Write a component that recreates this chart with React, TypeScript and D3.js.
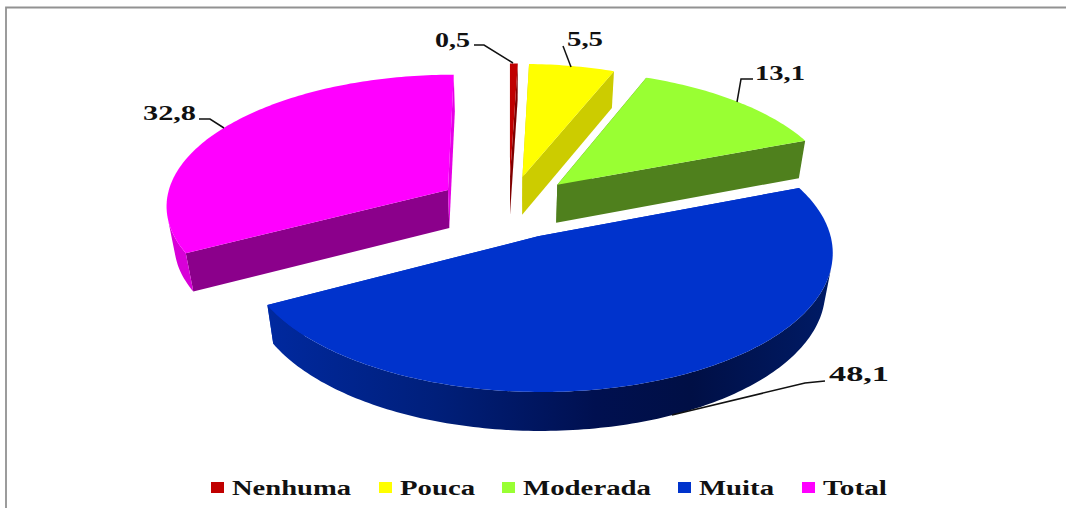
import React from "react";
import * as d3 from "d3";

const categories = ["Nenhuma", "Pouca", "Moderada", "Muita", "Total"];
const values = [0.5, 5.5, 13.1, 48.1, 32.8];
const valueLabels = ["0,5", "5,5", "13,1", "48,1", "32,8"];
const topColors = ["#C00000", "#FFFF00", "#99FF33", "#0033CC", "#FF00FF"];
const wallColors = ["#800000", "#CCCC00", "#4F801D", "#0033CC", "#8B008B"];
const paintOrder = [0, 1, 2, 4, 3];

const W = 1066, H = 508;
const CX = 509, CY = 207, R = 283, TILT = 0.463, PERSP = 0.106, DEPTH = 39, VANISH = 0.023;
const sliceExplode = [0.24, 0.24, 0.245, 0.24, 0.255];
const sliceRadius = [1, 1, 1, 1.01, 1];

type P = [number, number];
function project(X: number, Y: number, z: number): P {
  const w = 1 + PERSP * Y + VANISH * z;
  return [CX + (R * X) / w, CY - (R * TILT * Y) / w + (DEPTH * z) / w];
}

const arcs = d3.pie<number>().sort(null).startAngle(0).endAngle(2 * Math.PI)(values);
const line = d3.line<P>();

function pointOn(i: number, ang: number, r: number, z: number): P {
  const a = arcs[i];
  const mid = (a.startAngle + a.endAngle) / 2;
  const e = sliceExplode[i];
  const rr = r * sliceRadius[i];
  return project(e * Math.sin(mid) + rr * Math.sin(ang), e * Math.cos(mid) + rr * Math.cos(ang), z);
}

function sliceGeom(i: number) {
  const a = arcs[i];
  const n = Math.max(4, Math.ceil(((a.endAngle - a.startAngle) * 180) / Math.PI));
  const angs = d3.range(n + 1).map((k) => a.startAngle + ((a.endAngle - a.startAngle) * k) / n);
  const top: P[] = [pointOn(i, a.startAngle, 0, 0), ...angs.map((t) => pointOn(i, t, 1, 0))];
  const wallA: P[] = [pointOn(i, 0, 0, 0), pointOn(i, a.startAngle, 1, 0), pointOn(i, a.startAngle, 1, 1), pointOn(i, 0, 0, 1)];
  const wallB: P[] = [pointOn(i, 0, 0, 0), pointOn(i, a.endAngle, 1, 0), pointOn(i, a.endAngle, 1, 1), pointOn(i, 0, 0, 1)];
  // only the stretch of the rim that faces the viewer, as one polygon
  const front = d3.range(n).filter((k) => {
    const q: P[] = [pointOn(i, angs[k], 1, 0), pointOn(i, angs[k + 1], 1, 0), pointOn(i, angs[k + 1], 1, 1), pointOn(i, angs[k], 1, 1)];
    return d3.polygonArea(q) > 0;
  });
  let rim: P[] = [];
  if (front.length) {
    const ks = [...front, front[front.length - 1] + 1];
    rim = [...ks.map((k) => pointOn(i, angs[k], 1, 0)), ...ks.slice().reverse().map((k) => pointOn(i, angs[k], 1, 1))];
  }
  return { top, wallA, wallB, rim };
}

const leaders: { i: number; pts: P[]; label: P; w: number }[] = [
  { i: 0, pts: [[474, 45], [484, 45], [513, 63]], label: [435, 47], w: 35 },
  { i: 1, pts: [[563, 46], [571, 67]], label: [567, 46], w: 36 },
  { i: 2, pts: [[753, 79], [741, 79], [737, 102]], label: [755, 80], w: 50 },
  { i: 3, pts: [[825, 381], [805, 383], [672, 415]], label: [829, 381], w: 60 },
  { i: 4, pts: [[199, 119], [210, 119], [224, 128]], label: [143, 120], w: 53 },
];

const legendX = [211, 379, 502, 678, 802];
const legendTextW = [119, 75, 128, 75, 64];

export default function App() {
  return (
    <svg width={W} height={H} style={{ position: "fixed", left: 0, top: 0, background: "#fff" }} fontFamily="'Liberation Serif'" fontWeight="bold">
      <defs>
        <linearGradient id="rim3" gradientUnits="userSpaceOnUse" x1={268} x2={832} y1={0} y2={0}>
          <stop offset="0" stopColor="#00299F" />
          <stop offset="0.3" stopColor="#001F7A" />
          <stop offset="0.58" stopColor="#001050" />
          <stop offset="0.75" stopColor="#000F45" />
          <stop offset="1" stopColor="#001B66" />
        </linearGradient>
      </defs>
      <path d="M6,508 V7.5 H1066" fill="none" stroke="#929292" strokeWidth={1.8} />
      {paintOrder.map((i) => {
        const g = sliceGeom(i);
        const rimFill = i === 3 ? "url(#rim3)" : i === 4 ? "#D800D8" : wallColors[i];
        return (
          <g key={categories[i]}>
            <path d={line(g.wallA) + "Z"} fill={wallColors[i]} />
            <path d={line(g.wallB) + "Z"} fill={i === 4 ? "#E600E6" : wallColors[i]} />
            {g.rim.length > 0 && <path d={line(g.rim) + "Z"} fill={rimFill} />}
            <path d={line(g.top) + "Z"} fill={topColors[i]} />
          </g>
        );
      })}
      {leaders.map((l) => (
        <g key={l.i}>
          <path d={line(l.pts) as string} fill="none" stroke="#111" strokeWidth={1.5} />
          <text x={l.label[0]} y={l.label[1]} fontSize={20} textLength={l.w} lengthAdjust="spacingAndGlyphs" fill="#111">
            {valueLabels[l.i]}
          </text>
        </g>
      ))}
      {categories.map((c, i) => (
        <g key={c}>
          <rect x={legendX[i]} y={482} width={13} height={11} fill={topColors[i]} />
          <text x={legendX[i] + 21} y={495} fontSize={20} textLength={legendTextW[i]} lengthAdjust="spacingAndGlyphs" fill="#111">
            {c}
          </text>
        </g>
      ))}
    </svg>
  );
}
